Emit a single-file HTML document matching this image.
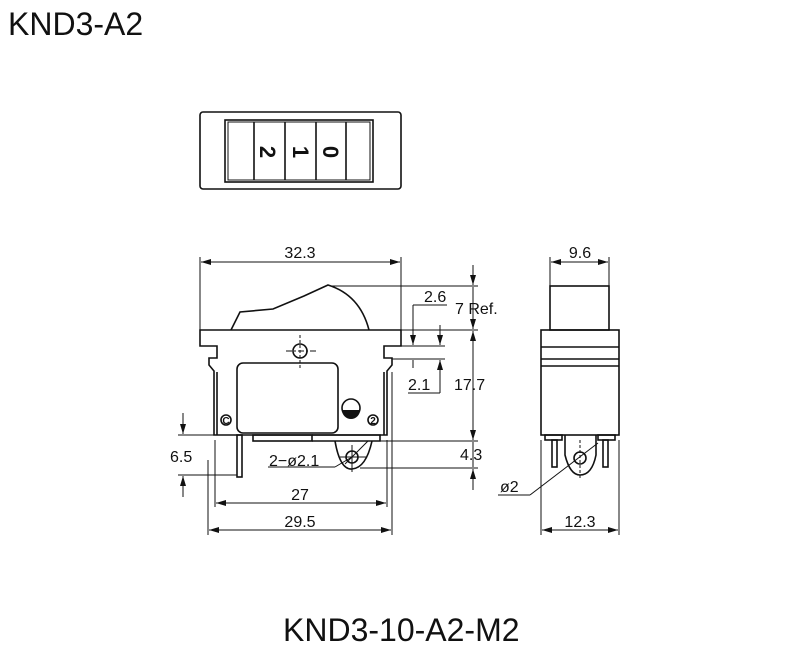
<!DOCTYPE html>
<html><head><style>
body{margin:0;background:#fff;}
svg{display:block;}
text{font-family:"Liberation Sans",sans-serif;fill:#111;}
</style></head><body>
<svg width="800" height="651" viewBox="0 0 800 651" xmlns="http://www.w3.org/2000/svg">
<defs>
<marker id="a" viewBox="0 0 10 6" refX="10" refY="3" markerWidth="10" markerHeight="6" orient="auto-start-reverse" markerUnits="userSpaceOnUse"><path d="M0,0 L10,3 L0,6 z" fill="#111"/></marker>
</defs>
<text x="8" y="35" font-size="32">KND3-A2</text>
<text x="283" y="641" font-size="32">KND3-10-A2-M2</text>

<!-- top view -->
<g fill="none" stroke="#111" stroke-width="1.6">
<rect x="200" y="112" width="201" height="77" rx="3"/>
<rect x="225" y="120" width="148" height="62"/>
<rect x="228" y="122" width="142" height="58" stroke-width="1"/>
<line x1="254" y1="122" x2="254" y2="180"/>
<line x1="285" y1="122" x2="285" y2="180"/>
<line x1="316" y1="122" x2="316" y2="180"/>
<line x1="346" y1="122" x2="346" y2="180"/>
</g>
<g font-size="22" font-weight="bold">
<text transform="translate(260,152) rotate(90)" text-anchor="middle">2</text>
<text transform="translate(293,152) rotate(90)" text-anchor="middle">1</text>
<text transform="translate(323,152) rotate(90)" text-anchor="middle">0</text>
</g>

<!-- front view -->
<g fill="none" stroke="#111" stroke-width="1.6">
<path d="M231,330 L240,312 L273,309 L304,296 L328,285 Q360,295 369,330"/>
<path d="M200,330 L401,330 L401,346 L384,346 L384,358 L392,358 L392,365 L387,371 L387,435 L214,435 L214,371 L209,365 L209,358 L217,358 L217,346 L200,346 Z"/>
<line x1="217" y1="372" x2="217" y2="435"/>
<line x1="384" y1="372" x2="384" y2="435"/>
<rect x="237" y="363" width="101" height="70" rx="6"/>
<circle cx="300" cy="351" r="7"/>
<circle cx="226" cy="420" r="5"/>
<circle cx="373" cy="420" r="5"/>
<circle cx="351" cy="408" r="9"/>
<rect x="237" y="435" width="5" height="42"/>
<rect x="253" y="435" width="59" height="6"/>
<path d="M312,435 L380,435 L380,441 L312,441"/>
<path d="M335,441 Q340,470 352,469 Q366,468 372,441"/>
<circle cx="352" cy="457" r="6"/>
</g>
<path d="M342,410 A9,9 0 0 0 360,410 Z" fill="#111"/>
<g stroke="#111" stroke-width="1" fill="none">
<line x1="300" y1="335" x2="300" y2="368" stroke-dasharray="3,2"/>
<line x1="286" y1="351" x2="318" y2="351" stroke-dasharray="6,2,2,2"/>
<line x1="352" y1="445" x2="352" y2="472"/>
<line x1="340" y1="457" x2="366" y2="457"/>
<line x1="345" y1="464" x2="368" y2="441"/>
</g>
<text x="226" y="424" font-size="10" font-weight="bold" text-anchor="middle">C</text>
<text x="373" y="424" font-size="10" font-weight="bold" text-anchor="middle">2</text>

<!-- dimensions front -->
<g stroke="#111" stroke-width="1" fill="none">
<line x1="200" y1="257" x2="200" y2="330"/>
<line x1="401" y1="257" x2="401" y2="330"/>
<line x1="201" y1="262" x2="400" y2="262" marker-start="url(#a)" marker-end="url(#a)"/>
<line x1="208" y1="460" x2="208" y2="535"/>
<line x1="392" y1="372" x2="392" y2="535"/>
<line x1="215" y1="440" x2="215" y2="507"/>
<line x1="387" y1="440" x2="387" y2="507"/>
<line x1="216" y1="503" x2="386" y2="503" marker-start="url(#a)" marker-end="url(#a)"/>
<line x1="209" y1="530" x2="391" y2="530" marker-start="url(#a)" marker-end="url(#a)"/>
<line x1="178" y1="435" x2="237" y2="435"/>
<line x1="178" y1="475" x2="237" y2="475"/>
<line x1="183" y1="413" x2="183" y2="434" marker-end="url(#a)"/>
<line x1="183" y1="497" x2="183" y2="476" marker-end="url(#a)"/>
<line x1="332" y1="286" x2="478" y2="286"/>
<line x1="401" y1="330" x2="478" y2="330"/>
<line x1="392" y1="346" x2="445" y2="346"/>
<line x1="392" y1="359" x2="445" y2="359"/>
<line x1="380" y1="441" x2="478" y2="441"/>
<line x1="360" y1="468" x2="478" y2="468"/>
<line x1="473" y1="265" x2="473" y2="285" marker-end="url(#a)"/>
<line x1="473" y1="287" x2="473" y2="329" marker-end="url(#a)"/>
<line x1="473" y1="331" x2="473" y2="440" marker-start="url(#a)" marker-end="url(#a)"/>
<line x1="473" y1="442" x2="473" y2="467"/>
<line x1="473" y1="490" x2="473" y2="469" marker-end="url(#a)"/>
<line x1="413" y1="305" x2="447" y2="305"/>
<line x1="413" y1="305" x2="413" y2="345" marker-end="url(#a)"/>
<line x1="413" y1="360" x2="413" y2="368"/>
<line x1="440" y1="325" x2="440" y2="345" marker-end="url(#a)"/>
<line x1="440" y1="393" x2="440" y2="360" marker-end="url(#a)"/>
<line x1="408" y1="393" x2="440" y2="393"/>
<line x1="268" y1="467" x2="335" y2="467"/>
<line x1="335" y1="467" x2="352" y2="457"/>
</g>
<g font-size="16">
<text x="300" y="258" text-anchor="middle">32.3</text>
<text x="424" y="302">2.6</text>
<text x="455" y="314">7  Ref.</text>
<text x="408" y="390">2.1</text>
<text x="454" y="390">17.7</text>
<text x="460" y="460">4.3</text>
<text x="170" y="462">6.5</text>
<text x="269" y="466">2−ø2.1</text>
<text x="300" y="500" text-anchor="middle">27</text>
<text x="300" y="527" text-anchor="middle">29.5</text>
<text x="580" y="258" text-anchor="middle">9.6</text>
<text x="580" y="527" text-anchor="middle">12.3</text>
<text x="500" y="492">ø2</text>
</g>

<!-- side view -->
<g fill="none" stroke="#111" stroke-width="1.6">
<rect x="550" y="286" width="59" height="44"/>
<rect x="541" y="330" width="78" height="105"/>
<line x1="541" y1="347" x2="619" y2="347"/>
<line x1="541" y1="359" x2="619" y2="359"/>
<line x1="541" y1="366" x2="619" y2="366"/>
<rect x="545" y="435" width="17" height="5"/>
<rect x="598" y="435" width="17" height="5"/>
<rect x="552" y="440" width="5" height="27"/>
<rect x="603" y="440" width="5" height="27"/>
<path d="M565,435 L565,455 Q570,475 580,475 Q592,475 596,455 L596,435"/>
<circle cx="580" cy="458" r="6"/>
</g>
<g stroke="#111" stroke-width="1" fill="none">
<line x1="550" y1="257" x2="550" y2="286"/>
<line x1="609" y1="257" x2="609" y2="286"/>
<line x1="551" y1="262" x2="608" y2="262" marker-start="url(#a)" marker-end="url(#a)"/>
<line x1="541" y1="440" x2="541" y2="535"/>
<line x1="619" y1="440" x2="619" y2="535"/>
<line x1="542" y1="530" x2="618" y2="530" marker-start="url(#a)" marker-end="url(#a)"/>
<line x1="498" y1="495" x2="530" y2="495"/>
<line x1="530" y1="495" x2="598" y2="443"/>
<line x1="580" y1="440" x2="580" y2="478" stroke-dasharray="3,2"/>
</g>
</svg>
</body></html>
